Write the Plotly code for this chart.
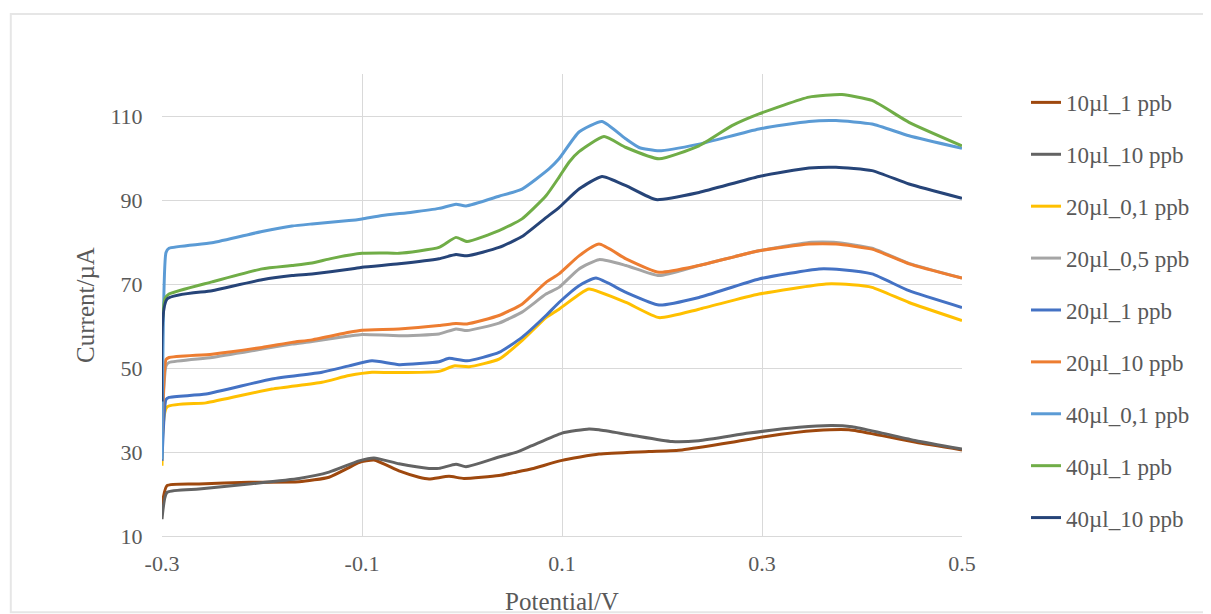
import plotly.graph_objects as go

# ---- data ----
names = ["10µl_1 ppb", "10µl_10 ppb", "20µl_0,1 ppb", "20µl_0,5 ppb", "20µl_1 ppb",
         "20µl_10 ppb", "40µl_0,1 ppb", "40µl_1 ppb", "40µl_10 ppb"]
colors = ["#9E480E", "#636363", "#FFC000", "#A5A5A5", "#4472C4",
          "#ED7D31", "#5B9BD5", "#70AD47", "#264478"]

v_10_1 = [-0.300, -0.295, -0.263, -0.213, -0.163, -0.133, -0.113, -0.103, -0.088, -0.063, -0.043, -0.033,
          -0.013, 0.002, 0.037, 0.054, 0.070, 0.100, 0.137, 0.187, 0.220, 0.270, 0.304, 0.354, 0.387, 0.420, 0.454, 0.500]
i_10_1 = [17.2, 22.0, 22.4, 22.8, 22.9, 24.0, 26.3, 27.5, 28.1, 25.5, 24.0, 23.6,
          24.2, 23.7, 24.4, 25.2, 26.0, 28.0, 29.5, 30.1, 30.5, 32.3, 33.7, 35.1, 35.3, 33.9, 32.3, 30.5]

v_10_10 = [-0.300, -0.295, -0.263, -0.213, -0.163, -0.133, -0.103, -0.088, -0.063, -0.033, -0.023, -0.006,
           0.004, 0.037, 0.054, 0.070, 0.100, 0.127, 0.137, 0.170, 0.210, 0.237, 0.287, 0.337, 0.370, 0.390,
           0.420, 0.454, 0.500]
i_10_10 = [14.0, 20.4, 21.2, 22.4, 23.7, 25.2, 27.9, 28.6, 27.2, 26.1, 26.1, 27.1,
           26.5, 28.8, 29.9, 31.5, 34.5, 35.5, 35.3, 34.0, 32.5, 32.7, 34.5, 35.9, 36.3, 36.0,
           34.5, 32.7, 30.7]

v_20_01 = [-0.300, -0.295, -0.256, -0.190, -0.140, -0.113, -0.090, -0.063, -0.023, -0.008, 0.007, 0.037,
           0.060, 0.084, 0.097, 0.117, 0.127, 0.164, 0.197, 0.237, 0.297, 0.364, 0.390, 0.410, 0.447, 0.500]
i_20_01 = [26.7, 40.7, 41.7, 45.0, 46.6, 48.2, 49.0, 48.9, 49.2, 50.5, 50.3, 52.1,
           56.5, 62.0, 64.0, 67.5, 68.8, 65.6, 62.0, 64.0, 67.6, 70.0, 69.8, 69.2, 65.6, 61.3]

v_20_05 = [-0.300, -0.296, -0.293, -0.250, -0.200, -0.170, -0.150, -0.113, -0.100, -0.063, -0.023, -0.006,
           0.005, 0.037, 0.060, 0.084, 0.097, 0.117, 0.137, 0.164, 0.197, 0.237, 0.297, 0.347, 0.374,
           0.410, 0.447, 0.500]
i_20_05 = [36.0, 50.5, 51.3, 52.5, 54.5, 55.7, 56.3, 57.6, 58.0, 57.7, 58.1, 59.3,
           58.9, 60.7, 63.3, 67.6, 69.2, 73.6, 75.8, 74.4, 72.0, 74.4, 77.9, 79.9, 79.9,
           78.5, 74.9, 71.4]

v_20_1 = [-0.300, -0.296, -0.293, -0.256, -0.190, -0.140, -0.113, -0.090, -0.063, -0.023, -0.013, 0.005,
          0.037, 0.060, 0.084, 0.097, 0.117, 0.134, 0.164, 0.197, 0.237, 0.297, 0.357, 0.380, 0.410, 0.447, 0.500]
i_20_1 = [27.9, 42.5, 43.0, 43.8, 47.4, 49.0, 50.5, 51.7, 50.8, 51.5, 52.3, 51.7,
          53.7, 57.3, 62.5, 65.6, 69.6, 71.4, 68.0, 65.0, 66.8, 71.2, 73.6, 73.4, 72.4, 68.4, 64.4]

v_20_10 = [-0.300, -0.296, -0.293, -0.250, -0.200, -0.170, -0.150, -0.113, -0.100, -0.063, -0.023, -0.006,
           0.005, 0.037, 0.060, 0.084, 0.097, 0.117, 0.137, 0.164, 0.197, 0.237, 0.297, 0.347, 0.374,
           0.410, 0.447, 0.500]
i_20_10 = [34.8, 52.0, 52.5, 53.3, 54.9, 56.1, 56.7, 58.5, 59.0, 59.3, 60.1, 60.6,
           60.5, 62.5, 65.2, 70.4, 72.4, 76.7, 79.5, 76.0, 72.8, 74.4, 77.9, 79.5, 79.5,
           78.3, 74.8, 71.4]

v_40_01 = [-0.300, -0.296, -0.293, -0.250, -0.200, -0.170, -0.150, -0.113, -0.100, -0.080, -0.050, -0.023,
           -0.006, 0.004, 0.037, 0.060, 0.087, 0.097, 0.117, 0.140, 0.164, 0.177, 0.197, 0.237, 0.297,
           0.347, 0.374, 0.410, 0.447, 0.500]
i_40_01 = [28.3, 77.5, 78.5, 79.8, 82.5, 83.8, 84.3, 85.1, 85.5, 86.3, 87.1, 88.0,
           89.0, 88.6, 90.9, 92.6, 97.4, 99.8, 106.2, 108.7, 104.5, 102.5, 101.7, 103.3, 106.9,
           108.7, 108.9, 108.1, 105.3, 102.3]

v_40_1 = [-0.300, -0.297, -0.293, -0.250, -0.200, -0.170, -0.150, -0.130, -0.100, -0.080, -0.063, -0.023,
          -0.006, 0.005, 0.037, 0.060, 0.084, 0.097, 0.107, 0.117, 0.142, 0.164, 0.197, 0.237, 0.270,
          0.297, 0.347, 0.380, 0.410, 0.447, 0.500]
i_40_1 = [60.0, 66.5, 67.6, 70.5, 73.6, 74.4, 75.0, 76.1, 77.3, 77.4, 77.3, 78.7,
          81.1, 80.1, 82.7, 85.5, 91.0, 95.4, 99.0, 101.5, 105.1, 102.5, 99.8, 102.9, 107.7,
          110.5, 114.5, 115.1, 113.7, 108.5, 102.9]

v_40_10 = [-0.300, -0.295, -0.250, -0.200, -0.170, -0.150, -0.113, -0.100, -0.063, -0.023, -0.006, 0.005,
           0.037, 0.060, 0.084, 0.097, 0.117, 0.140, 0.164, 0.194, 0.237, 0.297, 0.347, 0.374, 0.410,
           0.447, 0.500]
i_40_10 = [42.0, 66.4, 68.4, 71.0, 72.0, 72.4, 73.5, 74.0, 74.8, 76.0, 77.0, 76.7,
           78.7, 81.3, 85.8, 88.2, 92.6, 95.6, 93.4, 90.1, 91.8, 95.6, 97.6, 97.8, 97.0,
           93.8, 90.4]

xs = [v_10_1, v_10_10, v_20_01, v_20_05, v_20_1, v_20_10, v_40_01, v_40_1, v_40_10]
ys = [i_10_1, i_10_10, i_20_01, i_20_05, i_20_1, i_20_10, i_40_01, i_40_1, i_40_10]

x_tickvals = [-0.3, -0.1, 0.1, 0.3, 0.5]
x_ticktext = ["-0.3", "-0.1", "0.1", "0.3", "0.5"]
y_tickvals = [10, 30, 50, 70, 90, 110]
y_ticktext = ["10", "30", "50", "70", "90", "110"]

FONT = "Liberation Serif"
TXT = "#595959"

fig = go.Figure()
for k, (n, c, x, y) in enumerate(zip(names, colors, xs, ys)):
    fig.add_trace(go.Scatter(
        x=x, y=y, name=n, mode="lines", legendgroup=f"g{k}",
        line=dict(color=c, width=3, shape="spline", smoothing=0.5),
    ))

fig.update_layout(
    width=1211, height=614,
    margin=dict(l=154, r=257, t=66, b=86, autoexpand=False),
    paper_bgcolor="white", plot_bgcolor="white",
    font=dict(family=FONT, color=TXT, size=22),
    showlegend=True,
    legend=dict(x=1.08, y=0.985, xanchor="left", yanchor="top",
                font=dict(family=FONT, size=23, color=TXT),
                tracegroupgap=19, maxheight=600, bgcolor="rgba(0,0,0,0)"),
    xaxis=dict(range=[-0.3, 0.5], tickvals=x_tickvals, ticktext=x_ticktext,
               showgrid=True, gridcolor="#D9D9D9", gridwidth=1,
               showline=True, linecolor="#D9D9D9", linewidth=1,
               zeroline=False, ticks="outside", ticklen=8, tickcolor="rgba(0,0,0,0)",
               tickfont=dict(family=FONT, size=22, color=TXT),
               title=dict(text="Potential/V", font=dict(family=FONT, size=25, color=TXT), standoff=17)),
    yaxis=dict(range=[10, 120], tickvals=y_tickvals, ticktext=y_ticktext,
               showgrid=True, gridcolor="#D9D9D9", gridwidth=1,
               zeroline=False, showline=False, ticks="outside", ticklen=14, tickcolor="rgba(0,0,0,0)",
               tickfont=dict(family=FONT, size=22, color=TXT),
               title=dict(text="Current/µA", font=dict(family=FONT, size=25, color=TXT), standoff=8)),
    shapes=[dict(type="rect", xref="paper", yref="paper",
                 x0=-0.189, x1=1.3025, y0=-0.165, y1=1.13,
                 line=dict(color="#E6E6E6", width=2), layer="below")],
)

fig.write_html("out.html")
